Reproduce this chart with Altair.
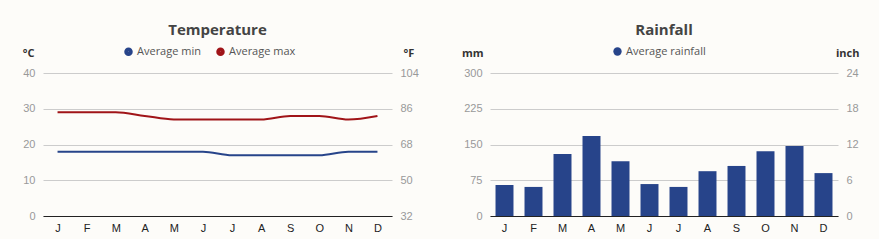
import altair as alt
import pandas as pd

months = ["Jan", "Feb", "Mar", "Apr", "May", "Jun", "Jul", "Aug", "Sep", "Oct", "Nov", "Dec"]
temp_min = [18, 18, 18, 18, 18, 18, 17, 17, 17, 17, 18, 18]
temp_max = [29, 29, 29, 28, 27, 27, 27, 27, 28, 28, 27, 28]
rainfall = [65, 61, 130, 168, 115, 67, 61, 94, 105, 136, 147, 90]

BG = "#fdfcf9"
BLUE = "#27448a"
RED = "#a01418"
GRID = "#cccccc"

temp_df = pd.DataFrame({
    "month": months * 2,
    "series": ["Average min"] * 12 + ["Average max"] * 12,
    "value": temp_min + temp_max,
})
rain_df = pd.DataFrame({
    "month": months,
    "series": ["Average rainfall"] * 12,
    "value": rainfall,
})

LABEL_FONT = "Liberation Sans"
TEXT_FONT = "Open Sans"


def x_axis():
    return alt.Axis(title=None, labelExpr="substring(datum.label,0,1)", labelAngle=0,
                    ticks=False, domainColor="#222", labelColor="#222",
                    labelFont=LABEL_FONT, labelFontSize=11, labelPadding=6,
                    grid=False, zindex=1)


def y_axis(orient, values, title, title_x, title_align, label_expr=None, grid=True):
    kw = dict(orient=orient, values=values, title=title, titleAngle=0,
              titleAlign=title_align, titleBaseline="middle", titleX=title_x, titleY=-20,
              titleFont=TEXT_FONT, titleFontSize=11, titleFontWeight="bold", titleColor="#333",
              labelColor="#999", labelFont=LABEL_FONT, labelFontSize=11, labelPadding=8,
              ticks=False, domain=False, grid=grid, gridColor=GRID, gridWidth=1)
    if label_expr:
        kw["labelExpr"] = label_expr
    return alt.Axis(**kw)


def legend(x, y, size, stroke):
    return alt.Legend(title=None, orient="none", legendX=x, legendY=y, direction="horizontal",
                      symbolType="circle", symbolSize=size, symbolStrokeWidth=stroke,
                      labelFont=TEXT_FONT, labelFontSize=11, labelColor="#555",
                      labelOffset=3, columnPadding=8, padding=0)


W1, W2, H = 349, 348, 143

xline = alt.X("month:N", sort=months, scale=alt.Scale(type="point", padding=0.5), axis=x_axis())
temp_color = alt.Color("series:N", sort=["Average min", "Average max"],
                       scale=alt.Scale(domain=["Average min", "Average max"], range=[BLUE, RED]),
                       legend=legend(80, -27, 16, 4.5))

temp_lines = alt.Chart(temp_df).mark_line(strokeWidth=2, interpolate="monotone").encode(
    x=xline,
    y=alt.Y("value:Q", scale=alt.Scale(domain=[0, 40]),
            axis=y_axis("left", [0, 10, 20, 30, 40], "°C", -9, "right")),
    color=temp_color,
)
temp_right = alt.Chart(temp_df).mark_line(opacity=0).encode(
    x=xline,
    y=alt.Y("value:Q", scale=alt.Scale(domain=[0, 40]),
            axis=y_axis("right", [0, 10, 20, 30, 40], "°F", 11, "left",
                        label_expr="format(datum.value*1.8+32,'d')", grid=False)),
    detail="series:N",
)
temp_chart = alt.layer(temp_lines, temp_right).resolve_scale(y="shared").resolve_axis(y="independent").properties(
    width=W1, height=H,
    title=alt.TitleParams("Temperature", fontSize=15, font=TEXT_FONT, fontWeight="bold",
                          color="#444", anchor="middle", frame="group", offset=8),
)

xbar = alt.X("month:N", sort=months, scale=alt.Scale(paddingInner=0.38, paddingOuter=0.19), axis=x_axis())
rain_bars = alt.Chart(rain_df).mark_bar().encode(
    x=xbar,
    y=alt.Y("value:Q", scale=alt.Scale(domain=[0, 300]),
            axis=y_axis("left", [0, 75, 150, 225, 300], "mm", -7, "right")),
    color=alt.Color("series:N", scale=alt.Scale(domain=["Average rainfall"], range=[BLUE]),
                    legend=legend(122, -27, 70, 0)),
)
rain_right = alt.Chart(rain_df).mark_bar(opacity=0).encode(
    x=xbar,
    y=alt.Y("value:Q", scale=alt.Scale(domain=[0, 300]),
            axis=y_axis("right", [0, 75, 150, 225, 300], "inch", 21, "right",
                        label_expr="format(datum.value/12.5,'d')", grid=False)),
)
rain_chart = alt.layer(rain_bars, rain_right).resolve_scale(y="shared").resolve_axis(y="independent").properties(
    width=W2, height=H,
    title=alt.TitleParams("Rainfall", fontSize=15, font=TEXT_FONT, fontWeight="bold",
                          color="#444", anchor="middle", frame="group", offset=8),
)

chart = alt.hconcat(temp_chart, rain_chart, spacing=42).resolve_scale(color="independent").properties(
    padding={"left": 22, "top": 23, "right": 20, "bottom": 6},
    background=BG,
).configure_view(stroke=None)

chart.save("out.html", embed_options={"renderer": "svg", "actions": False})
